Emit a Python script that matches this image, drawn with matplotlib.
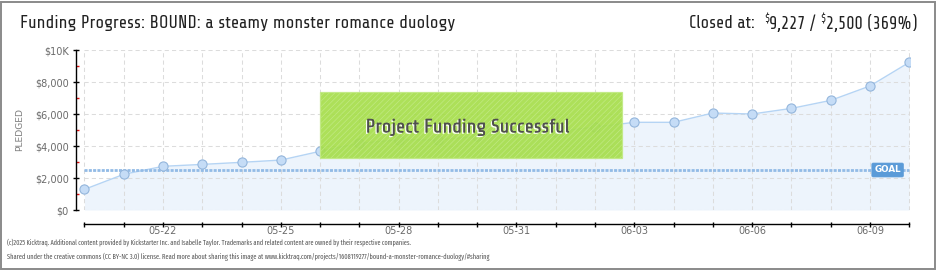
import matplotlib
matplotlib.use("Agg")
import matplotlib.pyplot as plt
import matplotlib.patheffects as pe
from matplotlib.patches import Rectangle
import numpy as np

# ---------------- data ----------------
dates = ["05-20", "05-21", "05-22", "05-23", "05-24", "05-25", "05-26", "05-27",
         "05-28", "05-29", "05-30", "05-31", "06-01", "06-02", "06-03", "06-04",
         "06-05", "06-06", "06-07", "06-08", "06-09", "06-10"]
pledged = [1290, 2230, 2730, 2850, 2980, 3120, 3670, 4170,
           4380, 4380, 4600, 4850, 4900, 5180, 5480, 5480,
           6060, 6000, 6350, 6850, 7750, 9227]
goal = 2500
y_ticks = [0, 2000, 4000, 6000, 8000, 10000]
y_tick_labels = [r"\$0", r"\$2,000", r"\$4,000", r"\$6,000", r"\$8,000", r"\$10K"]
y_minor = [1000, 3000, 5000, 7000, 9000]
x_label_every = 3
x_label_start = 2
title = "Funding Progress: BOUND: a steamy monster romance duology"
closed_parts = ["Closed at:  ", r"\$", "9,227 / ", r"\$", "2,500 (369%)"]
success_text = "Project Funding Successful"
footer1 = ("(c)2025 Kicktraq. Additional content provided by Kickstarter Inc. and Isabelle Taylor. "
           "Trademarks and related content are owned by their respective companies.")
footer2 = ("Shared under the creative commons (CC BY-NC 3.0) license. Read more about sharing this image at "
           "www.kicktraq.com/projects/1608119277/bound-a-monster-romance-duology/#sharing")

plt.rcParams["hatch.color"] = "#9ccf47"
plt.rcParams["hatch.linewidth"] = 0.5

# ---------------- figure ----------------
W, H = 940, 270
fig = plt.figure(figsize=(W / 100, H / 100), dpi=100)
fig.patch.set_facecolor("white")
renderer = fig.canvas.get_renderer()

# frame
fig.add_artist(Rectangle((0.8 / W, 0.8 / H), 934.5 / W, 267.5 / H, transform=fig.transFigure,
                         fill=False, edgecolor="#8a8a8a", linewidth=1.4))

ax = fig.add_axes([76 / W, 60 / H, 834 / W, 160 / H])
ax.set_facecolor("none")
n = len(dates)
x = np.arange(n)
ax.set_xlim(-0.216, n - 1 + 0.02)
ax.set_ylim(0, 10000)

# grid (drawn only over the data span)
grid_kw = dict(color="#dcdcdc", linewidth=0.75, linestyles=(0, (4, 3)), zorder=1.5)
ax.hlines(y_ticks, 0, n - 1, **grid_kw)
ax.vlines(x, 0, 10000, **grid_kw)

# area + line
ax.fill_between(x, pledged, 0, color="#edf4fc", zorder=1, linewidth=0)
ax.plot(x, pledged, color="#b5d4f4", linewidth=1.0, zorder=3)
ax.plot(x, pledged, linestyle="none", marker="o", markersize=6.6,
        markerfacecolor="#c5dcf6", markeredgecolor="#94b6dc", markeredgewidth=0.8, zorder=4)

# goal line
ax.plot([0, n - 1], [goal, goal], color="#93bbe6", linewidth=2.0,
        linestyle=(0, (1.1, 0.45)), zorder=3.5, solid_capstyle="butt", dash_capstyle="butt")
ax.text(20.45, goal, "GOAL", ha="center", va="center", fontsize=6.3, color="white",
        family=["DejaVu Sans"], fontweight="bold", zorder=6,
        bbox=dict(boxstyle="round,pad=0.28,rounding_size=0.15", facecolor="#5b9bd8",
                  edgecolor="#5b9bd8", linewidth=0.5))

# success box
ax.add_patch(Rectangle((6, 3250), 13.68 - 6, 7356 - 3250, facecolor="#a6de4b",
                       edgecolor="#c2ea85", linewidth=0.9, hatch="//////", alpha=0.92,
                       zorder=5))
t = ax.text(9.76, 5190, success_text, ha="center", va="center", fontsize=14,
            color="#4f4f4f", family=["Share Tech", "DejaVu Sans"], zorder=7)
t.set_path_effects([pe.withSimplePatchShadow(offset=(-1, -1), shadow_rgbFace="white", alpha=0.95),
                    pe.Normal()])

# spines
for s in ("top", "right"):
    ax.spines[s].set_visible(False)
ax.spines["left"].set_bounds(0, 10000)
ax.spines["left"].set_linewidth(1.0)
ax.spines["bottom"].set_position(("outward", 10))
ax.spines["bottom"].set_bounds(0, n - 1)
ax.spines["bottom"].set_linewidth(1.0)

# ticks
ax.set_yticks(y_ticks)
ax.set_yticklabels(y_tick_labels)
ax.set_yticks(y_minor, minor=True)
ax.tick_params(axis="y", which="major", direction="inout", length=4.5, width=1.0,
               color="black", labelsize=7, labelcolor="#6a6a6a", pad=3.0)
ax.tick_params(axis="y", which="minor", direction="in", length=2.0, width=1.0, color="#e01010")
ax.set_xticks(x)
ax.set_xticklabels([d if (i - x_label_start) % x_label_every == 0 and i >= x_label_start else ""
                    for i, d in enumerate(dates)])
ax.tick_params(axis="x", which="major", direction="inout", length=3.6, width=1.0,
               color="black", labelsize=7, labelcolor="#6a6a6a", pad=-0.3)
for lab in ax.get_xticklabels() + ax.get_yticklabels():
    lab.set_family(["DejaVu Sans"])

fig.text(20 / W, 1 - 130 / H, "PLEDGED", rotation=90, ha="center", va="center",
         fontsize=6.6, color="#808080", family=["DejaVu Sans"])

# header
fig.text(20 / W, 1 - 23 / H, title, ha="left", va="center", fontsize=12.7,
         color="#222222", family=["Share Tech", "DejaVu Sans"])

xr = 917.0
for part in reversed(closed_parts):
    small = part == r"\$"
    tt = fig.text(xr / W, 1 - (19 if small else 23) / H, part, ha="right", va="center",
                  fontsize=8 if small else 12.5, color="#222222",
                  family=["Share Tech", "DejaVu Sans"])
    bb = tt.get_window_extent(renderer)
    xr -= bb.width

# footer (size fitted to the reference line widths)
for txt, ypix, target in ((footer1, 242, 408.0), (footer2, 257, 483.0)):
    ft = fig.text(7 / W, 1 - ypix / H, txt, ha="left", va="center", fontsize=7,
                  color="#555555", family=["Fira Sans Extra Condensed", "PT Sans Narrow", "DejaVu Sans"])
    w = ft.get_window_extent(renderer).width
    ft.set_fontsize(7 * target / w)

fig.savefig("out.png", dpi=100, facecolor="white")
